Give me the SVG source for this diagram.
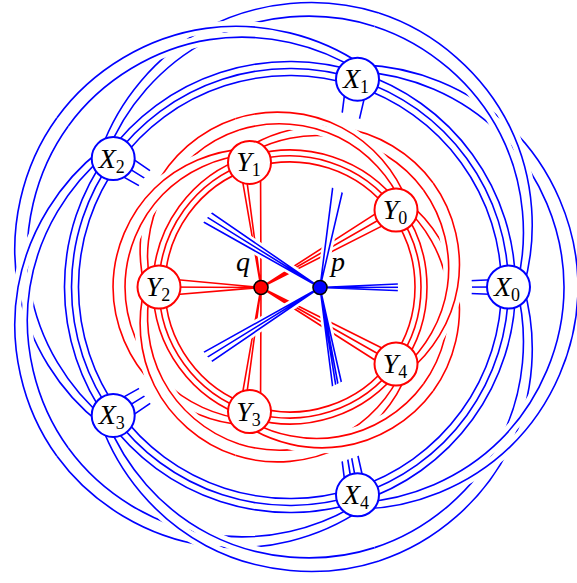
<svg xmlns="http://www.w3.org/2000/svg" width="577" height="583" viewBox="0 0 577 583">
<style>
.b{fill:none;stroke:#0000ff;stroke-width:1.6}
.r{fill:none;stroke:#ff0000;stroke-width:1.6}
.h{fill:none;stroke:#ffffff;stroke-width:11}
.hr{fill:none;stroke:#ffffff;stroke-width:7}
.nx circle{fill:#ffffff;stroke:#0000ff;stroke-width:2}
.ny circle{fill:#ffffff;stroke:#ff0000;stroke-width:2}
.t{font-family:"Liberation Serif","Times New Roman",serif;fill:#000000;font-size:28px;font-style:italic}
.sub{font-size:18px;font-style:normal}
</style>
<defs>
<clipPath id="rc"><path clip-rule="evenodd" d="M0,0H577V583H0Z M472,287A182,182 0 1 0 108,287A182,182 0 1 0 472,287Z M398,287A108,108 0 1 0 182,287A108,108 0 1 0 398,287Z"/></clipPath>
<g id="bd1">
<path class="h" d="M106.8,153.9 C124.6,108.2 160.5,64.8 209.6,39.6 C258.7,14.4 320.1,8.7 374.7,26.4"/>
<path class="h" d="M101.1,149.7 C118.3,101.7 154.9,55.5 206.0,28.3 C257.1,1.1 321.6,-5.5 379.0,13.1"/>
<path class="b" d="M106.8,153.9 C124.6,108.2 160.5,64.8 209.6,39.6 C258.7,14.4 320.1,8.7 374.7,26.4"/>
<path class="b" d="M101.1,149.7 C118.3,101.7 154.9,55.5 206.0,28.3 C257.1,1.1 321.6,-5.5 379.0,13.1"/>
</g>
<g id="bd2">
<path class="h" d="M374.7,26.4 C429.3,44.1 475.5,84.9 500.4,134.1 C525.3,183.3 528.9,239.6 516.5,287"/>
<path class="h" d="M379.0,13.1 C436.4,31.7 484.7,75.1 510.0,127.1 C535.3,179.1 537.8,238.1 523.5,287"/>
<path class="b" d="M374.7,26.4 C429.3,44.1 475.5,84.9 500.4,134.1 C525.3,183.3 528.9,239.6 516.5,287"/>
<path class="b" d="M379.0,13.1 C436.4,31.7 484.7,75.1 510.0,127.1 C535.3,179.1 537.8,238.1 523.5,287"/>
</g>
<g id="bt">
<path class="b" d="M501.5,287 A211.5,211.5 0 0 0 355.4,85.8"/>
<path class="b" d="M508.5,287 A218.5,218.5 0 0 0 357.5,79.2"/>
<path class="b" d="M515.5,287 A225.5,225.5 0 0 0 359.7,72.5"/>
</g>
<g id="rd1">
<path class="h" d="M177.5,205.3 C189.1,177.8 211.5,152.1 241.4,137.3 C271.3,122.5 308.1,119.4 341.0,130.1"/>
<path class="h" d="M172.7,201.8 C183.8,172.3 206.65,144.1 238.2,127.6 C269.75,111.1 309.4,107.2 344.7,118.7"/>
<path class="r" d="M177.5,205.3 C189.1,177.8 211.5,152.1 241.4,137.3 C271.3,122.5 308.1,119.4 341.0,130.1"/>
<path class="r" d="M172.7,201.8 C183.8,172.3 206.65,144.1 238.2,127.6 C269.75,111.1 309.4,107.2 344.7,118.7"/>
</g>
<g id="rd2">
<path class="h" d="M341.0,130.1 C373.9,140.8 401.8,165.0 417.3,194.5 C432.8,224.0 435.8,257.9 429,287"/>
<path class="h" d="M344.7,118.7 C380.0,130.2 409.8,156.6 425.6,188.5 C441.4,220.4 443.4,256.6 435,287"/>
<path class="r" d="M341.0,130.1 C373.9,140.8 401.8,165.0 417.3,194.5 C432.8,224.0 435.8,257.9 429,287"/>
<path class="r" d="M344.7,118.7 C380.0,130.2 409.8,156.6 425.6,188.5 C441.4,220.4 443.4,256.6 435,287"/>
</g>
<g id="rt">
<path class="r" d="M415,287 A125,125 0 0 0 328.6,168.1"/>
<path class="r" d="M421,287 A131,131 0 0 0 330.5,162.4"/>
<path class="r" d="M427,287 A137,137 0 0 0 332.3,156.7"/>
</g>
<path id="brays" d="M320,287.5L508.5,279M320,287.5L508.5,287M320,287.5L508.5,295M320,287.5L346.7,77.3M320,287.5L368.3,81.1M320,287.5L119,149.3M320,287.5L113.2,158.6M320,287.5L107.4,167.9M320,287.5L119,424.7M320,287.5L113.2,415.4M320,287.5L107.4,406.1M320,287.5L346.7,496.8M320,287.5L353.6,495.5M320,287.5L358.5,494.6M320,287.5L366.4,493.2"/>
</defs>
<g id="connectors">
<g id="blue-long-first">
<use href="#bd1"/>
<use href="#bd1" transform="rotate(-72 290 287)"/>
<use href="#bd1" transform="rotate(-144 290 287)"/>
<use href="#bd1" transform="rotate(-216 290 287)"/>
<use href="#bd1" transform="rotate(-288 290 287)"/>
</g>
<g id="blue-long-second">
<use href="#bd2"/>
<use href="#bd2" transform="rotate(-72 290 287)"/>
<use href="#bd2" transform="rotate(-144 290 287)"/>
<use href="#bd2" transform="rotate(-216 290 287)"/>
<use href="#bd2" transform="rotate(-288 290 287)"/>
</g>
<g id="blue-triples">
<use href="#bt"/>
<use href="#bt" transform="rotate(-72 290 287)"/>
<use href="#bt" transform="rotate(-144 290 287)"/>
<use href="#bt" transform="rotate(-216 290 287)"/>
<use href="#bt" transform="rotate(-288 290 287)"/>
</g>
<g id="red-long-first">
<use href="#rd1" transform="rotate(-36 290 287)"/>
<use href="#rd1" transform="rotate(-108 290 287)"/>
<use href="#rd1" transform="rotate(-180 290 287)"/>
<use href="#rd1" transform="rotate(-252 290 287)"/>
<use href="#rd1" transform="rotate(-324 290 287)"/>
</g>
<g id="red-long-second">
<use href="#rd2" transform="rotate(-36 290 287)"/>
<use href="#rd2" transform="rotate(-108 290 287)"/>
<use href="#rd2" transform="rotate(-180 290 287)"/>
<use href="#rd2" transform="rotate(-252 290 287)"/>
<use href="#rd2" transform="rotate(-324 290 287)"/>
</g>
<g id="red-triples">
<use href="#rt" transform="rotate(-36 290 287)"/>
<use href="#rt" transform="rotate(-108 290 287)"/>
<use href="#rt" transform="rotate(-180 290 287)"/>
<use href="#rt" transform="rotate(-252 290 287)"/>
<use href="#rt" transform="rotate(-324 290 287)"/>
</g>
<path id="red-rays" class="r" d="M261,287.5L159,278M261,287.5L159,287M261,287.5L159,296M261,287.5L239.5,163.3M261,287.5L244.5,162.9M261,287.5L260.5,161.4M261,287.5L392,203.1M261,287.5L396,210M261,287.5L400,216.9M261,287.5L392.1,371M261,287.5L396,364M261,287.5L399.9,357M261,287.5L239.5,410.7M261,287.5L244.5,411.1M261,287.5L260.5,412.6"/>
<g id="blue-rays" clip-path="url(#rc)">
<use href="#brays" class="hr"/>
<use href="#brays" class="b"/>
</g>
</g>
<g id="X0" class="nx"><circle cx="508.5" cy="287" r="21.5"/><text class="t" x="507" y="296" text-anchor="middle">X<tspan class="sub" dy="5">0</tspan></text></g>
<g id="X1" class="nx"><circle cx="357.5" cy="79.2" r="21.5"/><text class="t" x="356" y="88.2" text-anchor="middle">X<tspan class="sub" dy="5">1</tspan></text></g>
<g id="X2" class="nx"><circle cx="113.2" cy="158.6" r="21.5"/><text class="t" x="111.7" y="167.6" text-anchor="middle">X<tspan class="sub" dy="5">2</tspan></text></g>
<g id="X3" class="nx"><circle cx="113.2" cy="415.4" r="21.5"/><text class="t" x="111.7" y="424.4" text-anchor="middle">X<tspan class="sub" dy="5">3</tspan></text></g>
<g id="X4" class="nx"><circle cx="357.5" cy="494.8" r="21.5"/><text class="t" x="356" y="503.8" text-anchor="middle">X<tspan class="sub" dy="5">4</tspan></text></g>
<g id="Y0" class="ny"><circle cx="396" cy="210" r="21.5"/><text class="t" x="395" y="219" text-anchor="middle">Y<tspan class="sub" dy="5">0</tspan></text></g>
<g id="Y1" class="ny"><circle cx="249.5" cy="162.4" r="21.5"/><text class="t" x="248.5" y="171.4" text-anchor="middle">Y<tspan class="sub" dy="5">1</tspan></text></g>
<g id="Y2" class="ny"><circle cx="159" cy="287" r="21.5"/><text class="t" x="158" y="296" text-anchor="middle">Y<tspan class="sub" dy="5">2</tspan></text></g>
<g id="Y3" class="ny"><circle cx="249.5" cy="411.6" r="21.5"/><text class="t" x="248.5" y="420.6" text-anchor="middle">Y<tspan class="sub" dy="5">3</tspan></text></g>
<g id="Y4" class="ny"><circle cx="396" cy="364" r="21.5"/><text class="t" x="395" y="373" text-anchor="middle">Y<tspan class="sub" dy="5">4</tspan></text></g>
<g id="p"><circle cx="320" cy="287.5" r="7" fill="#0000ff" stroke="#000000" stroke-width="1.6"/><text class="t" x="338" y="271" text-anchor="middle">p</text></g>
<g id="q"><circle cx="261" cy="287.5" r="7" fill="#ff0000" stroke="#000000" stroke-width="1.6"/><text class="t" x="243" y="271" text-anchor="middle">q</text></g>
</svg>
